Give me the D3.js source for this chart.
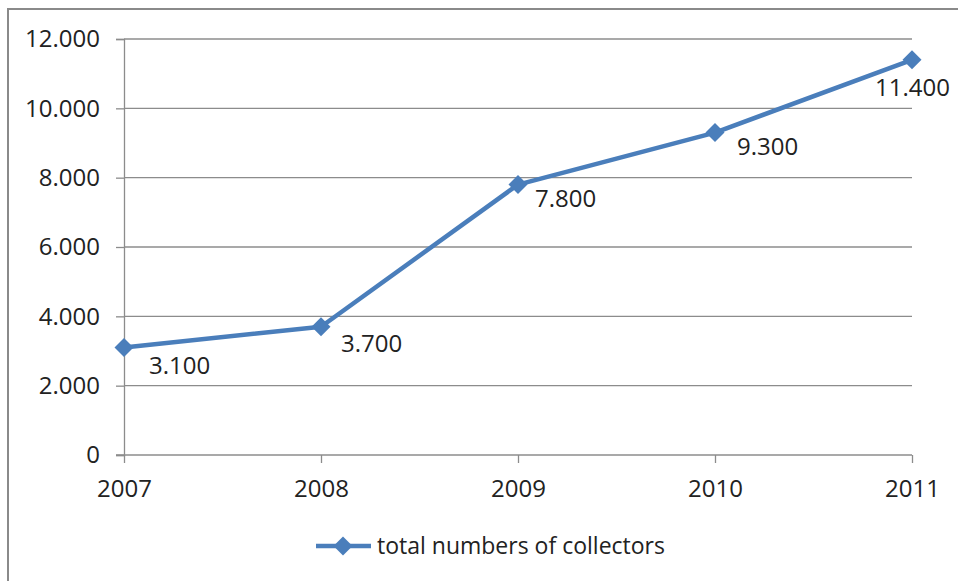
<!DOCTYPE html>
<html>
<head>
<meta charset="utf-8">
<script src="https://cdn.jsdelivr.net/npm/d3@7"></script>
<style>
  html, body { margin: 0; padding: 0; background: #ffffff; }
  svg { display: block; }
  text { font-family: "Open Sans", "Liberation Sans", sans-serif; fill: #222; }
</style>
</head>
<body>
<svg id="chart" width="958" height="581"></svg>
<script>
// Collector counts per year
const years = ["2007", "2008", "2009", "2010", "2011"];
const collectors = [3100, 3700, 7800, 9300, 11400];
const yTicks = [0, 2000, 4000, 6000, 8000, 10000, 12000];
const seriesName = "total numbers of collectors";

const W = 958, H = 581;
const plotLeft = 124, plotRight = 912, plotTop = 39, plotBottom = 455;
const blue = "#4a7ebb";
const grid = "#8c8c8c";
const fontSize = 24;
const fmt = v => d3.format(",")(v).replace(/,/g, ".");

// label placement: to the lower right of each marker, the last one tucked under it
const labelNudge = [[25, 26], [20, 25], [17, 22], [22, 22], [-37, 36]];

const svg = d3.select("#chart");

// outer chart frame
svg.append("rect")
  .attr("x", 8).attr("y", 9)
  .attr("width", W + 10).attr("height", H + 10)
  .attr("fill", "#ffffff")
  .attr("stroke", "#8a8a8a").attr("stroke-width", 2);

const x = d3.scalePoint().domain(years).range([plotLeft, plotRight]);
const y = d3.scaleLinear().domain([0, 12000]).range([plotBottom, plotTop]);

// horizontal gridlines
svg.append("g")
  .selectAll("line")
  .data(yTicks.filter(t => t > 0))
  .join("line")
  .attr("x1", plotLeft).attr("x2", plotRight)
  .attr("y1", d => y(d)).attr("y2", d => y(d))
  .attr("stroke", grid).attr("stroke-width", 1.3);

// y axis
const yAxis = svg.append("g")
  .attr("transform", `translate(${plotLeft},0)`)
  .call(d3.axisLeft(y).tickValues(yTicks).tickFormat(v => v === 0 ? "0" : fmt(v)).tickSize(8).tickPadding(16));
yAxis.select(".domain").attr("stroke", grid).attr("stroke-width", 1.3);
yAxis.selectAll(".tick line").attr("stroke", grid).attr("stroke-width", 1.3);
yAxis.selectAll(".tick text")
  .attr("font-size", fontSize).attr("font-family", "\"Open Sans\", sans-serif").attr("fill", "#222");

// x axis
const xAxis = svg.append("g")
  .attr("transform", `translate(0,${plotBottom})`)
  .call(d3.axisBottom(x).tickSize(8));
xAxis.select(".domain").attr("stroke", grid).attr("stroke-width", 1.3)
  .attr("d", `M${plotLeft - 8},0H${plotRight}`);
xAxis.selectAll(".tick line").attr("stroke", grid).attr("stroke-width", 1.3);
xAxis.selectAll(".tick text")
  .attr("y", 42).attr("dy", 0)
  .attr("font-size", fontSize).attr("font-family", "\"Open Sans\", sans-serif").attr("fill", "#222");

// series line
const pts = years.map((yr, i) => ({ yr, v: collectors[i], i }));
svg.append("path")
  .datum(pts)
  .attr("fill", "none")
  .attr("stroke", blue).attr("stroke-width", 4.5)
  .attr("stroke-linejoin", "round")
  .attr("d", d3.line().x(d => x(d.yr)).y(d => y(d.v)));

const diamond = d3.symbol().type(d3.symbolDiamond2).size(230);

svg.append("g")
  .selectAll("path")
  .data(pts)
  .join("path")
  .attr("transform", d => `translate(${x(d.yr)},${y(d.v)})`)
  .attr("d", diamond)
  .attr("fill", blue);

// value labels
svg.append("g")
  .selectAll("text")
  .data(pts)
  .join("text")
  .attr("x", d => x(d.yr) + labelNudge[d.i][0])
  .attr("y", d => y(d.v) + labelNudge[d.i][1])
  .attr("font-size", fontSize)
  .text(d => fmt(d.v));

// legend
const lg = svg.append("g");
lg.append("line")
  .attr("x1", 316).attr("x2", 371).attr("y1", 546).attr("y2", 546)
  .attr("stroke", blue).attr("stroke-width", 4.5);
lg.append("path")
  .attr("transform", "translate(343,546)")
  .attr("d", diamond)
  .attr("fill", blue);
lg.append("text")
  .attr("x", 377).attr("y", 554)
  .attr("font-size", 23)
  .text(seriesName);
</script>
</body>
</html>
